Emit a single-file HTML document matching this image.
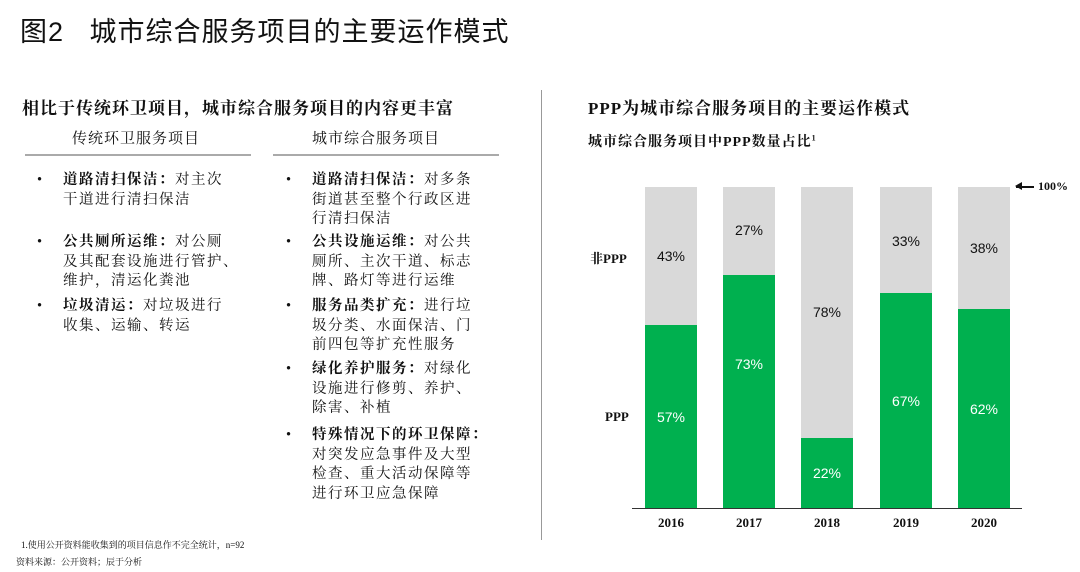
<!DOCTYPE html>
<html><head><meta charset="utf-8"><style>
*{margin:0;padding:0;box-sizing:border-box}
body{width:1080px;height:572px;background:#fff;position:relative;overflow:hidden;font-family:"Liberation Serif","Noto Serif CJK SC",serif;color:#111}
.a{position:absolute;white-space:nowrap}
.b{font-weight:bold}
.it{position:absolute;font-size:14.5px;line-height:19.6px;white-space:nowrap;letter-spacing:1.5px}
.it .dot{position:absolute;left:-26px;top:0}
.bar{position:absolute;width:52px}
.g{background:#d9d9d9}.gr{background:#00b04f}
.pl{position:absolute;width:52px;text-align:center;font-family:"Liberation Sans",sans-serif;font-size:14px}
.yr{position:absolute;width:52px;text-align:center;font-weight:bold;font-size:13px;top:515px}
</style></head><body>
<div class="a" style="left:20px;top:10px;font-size:27px;font-family:'Liberation Sans','Noto Sans CJK SC',sans-serif;letter-spacing:1px">图2&nbsp;&nbsp;&nbsp;城市综合服务项目的主要运作模式</div>
<div class="a b" style="left:22px;top:94px;font-size:17px;letter-spacing:1px">相比于传统环卫项目，城市综合服务项目的内容更丰富</div>
<div class="a" style="left:72px;top:127px;font-size:15px;letter-spacing:1px">传统环卫服务项目</div>
<div class="a" style="left:312px;top:127px;font-size:15px;letter-spacing:1px">城市综合服务项目</div>
<div class="a" style="left:25px;top:154px;width:226px;height:2px;background:#aaa"></div>
<div class="a" style="left:273px;top:154px;width:226px;height:2px;background:#aaa"></div>
<div class="it" style="left:63px;top:171px"><span class="dot">•</span><b>道路清扫保洁：</b>对主次<br>干道进行清扫保洁</div>
<div class="it" style="left:63px;top:233px"><span class="dot">•</span><b>公共厕所运维：</b>对公厕<br>及其配套设施进行管护、<br>维护，清运化粪池</div>
<div class="it" style="left:63px;top:297px"><span class="dot">•</span><b>垃圾清运：</b>对垃圾进行<br>收集、运输、转运</div>
<div class="it" style="left:312px;top:171px"><span class="dot">•</span><b>道路清扫保洁：</b>对多条<br>街道甚至整个行政区进<br>行清扫保洁</div>
<div class="it" style="left:312px;top:233px"><span class="dot">•</span><b>公共设施运维：</b>对公共<br>厕所、主次干道、标志<br>牌、路灯等进行运维</div>
<div class="it" style="left:312px;top:297px"><span class="dot">•</span><b>服务品类扩充：</b>进行垃<br>圾分类、水面保洁、门<br>前四包等扩充性服务</div>
<div class="it" style="left:312px;top:360px"><span class="dot">•</span><b>绿化养护服务：</b>对绿化<br>设施进行修剪、养护、<br>除害、补植</div>
<div class="it" style="left:312px;top:426px"><span class="dot">•</span><b>特殊情况下的环卫保障：</b><br>对突发应急事件及大型<br>检查、重大活动保障等<br>进行环卫应急保障</div>
<div class="a" style="left:541px;top:90px;width:1px;height:450px;background:#999"></div>
<div class="a" style="left:21px;top:538px;font-size:9px">1.使用公开资料能收集到的项目信息作不完全统计，n=92</div>
<div class="a" style="left:16px;top:555px;font-size:9px">资料来源：公开资料；辰于分析</div>
<div class="a b" style="left:588px;top:94px;font-size:17px;letter-spacing:1px">PPP为城市综合服务项目的主要运作模式</div>
<div class="a b" style="left:588px;top:131px;font-size:14px;letter-spacing:1px">城市综合服务项目中PPP数量占比<sup style="font-size:8px">1</sup></div>
<div class="a b" style="left:590px;top:248px;font-size:13px">非PPP</div>
<div class="a b" style="left:605px;top:409px;font-size:13px">PPP</div>
<div class="a" style="left:1016px;top:186px;width:18px;height:1.5px;background:#111"></div>
<div class="a" style="left:1015px;top:182px;width:0;height:0;border-top:4px solid transparent;border-bottom:4px solid transparent;border-right:7px solid #111"></div>
<div class="a b" style="left:1038px;top:179px;font-size:12px">100%</div>
<div class="bar g" style="left:645px;top:187px;height:138px"></div><div class="bar gr" style="left:645px;top:325px;height:183px"></div>
<div class="bar g" style="left:723px;top:187px;height:88px"></div><div class="bar gr" style="left:723px;top:275px;height:233px"></div>
<div class="bar g" style="left:801px;top:187px;height:251px"></div><div class="bar gr" style="left:801px;top:438px;height:70px"></div>
<div class="bar g" style="left:880px;top:187px;height:106px"></div><div class="bar gr" style="left:880px;top:293px;height:215px"></div>
<div class="bar g" style="left:958px;top:187px;height:122px"></div><div class="bar gr" style="left:958px;top:309px;height:199px"></div>
<div class="pl" style="left:645px;top:248px">43%</div><div class="pl" style="left:645px;top:409px;color:#fff">57%</div>
<div class="pl" style="left:723px;top:222px">27%</div><div class="pl" style="left:723px;top:356px;color:#fff">73%</div>
<div class="pl" style="left:801px;top:304px">78%</div><div class="pl" style="left:801px;top:465px;color:#fff">22%</div>
<div class="pl" style="left:880px;top:233px">33%</div><div class="pl" style="left:880px;top:393px;color:#fff">67%</div>
<div class="pl" style="left:958px;top:240px">38%</div><div class="pl" style="left:958px;top:401px;color:#fff">62%</div>
<div class="a" style="left:632px;top:508px;width:390px;height:1px;background:#333"></div>
<div class="yr" style="left:645px">2016</div><div class="yr" style="left:723px">2017</div><div class="yr" style="left:801px">2018</div><div class="yr" style="left:880px">2019</div><div class="yr" style="left:958px">2020</div>
</body></html>
